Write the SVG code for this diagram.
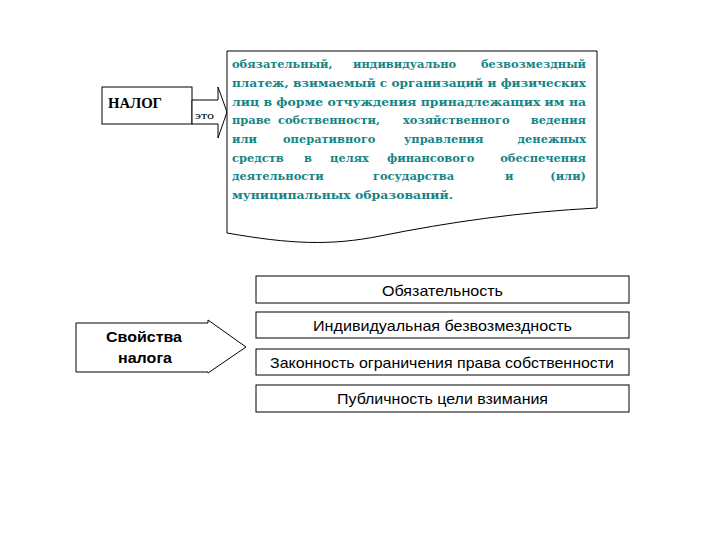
<svg xmlns="http://www.w3.org/2000/svg" width="720" height="540" viewBox="0 0 720 540">
<style>
.shape{fill:#fff;stroke:#000;stroke-width:1}
.def{font-family:"DejaVu Serif","Liberation Serif",serif;font-weight:bold;font-size:11.4px;fill:#168585}
.prop{font-family:"Liberation Sans",Arial,sans-serif;font-size:15px;fill:#000;text-anchor:middle}
.sv{font-family:"Liberation Sans",Arial,sans-serif;font-weight:bold;font-size:15px;fill:#000;text-anchor:middle}
</style>
<rect width="720" height="540" fill="#fff"/>
<g id="nalog">
<rect class="shape" x="102" y="87" width="90" height="37"/>
<text x="108" y="108" font-family="'Liberation Serif',serif" font-weight="bold" font-size="15" fill="#000" textLength="54" lengthAdjust="spacingAndGlyphs">НАЛОГ</text>
</g>
<g id="connectors">
<polygon class="shape" points="192,100 218,100 218,87 227,112 218,138 218,124 192,124"/>
<text x="195" y="119" font-family="'Liberation Serif',serif" font-size="11" fill="#000" textLength="19" lengthAdjust="spacingAndGlyphs">это</text>
<polygon class="shape" points="76,323 208,323 208,320 246,347 208,373 208,372 76,372"/>
</g>
<g id="definition">
<path class="shape" d="M227,51 L597,51 L597,208 C520,212 450,222 380,236 C330,246 290,244 227,233 Z"/>
<text class="def" y="68"><tspan x="232">обязательный,</tspan><tspan x="353">индивидуально</tspan><tspan x="586" text-anchor="end">безвозмездный</tspan></text>
<text class="def" x="232" y="87" textLength="354" lengthAdjust="spacingAndGlyphs">платеж, взимаемый с организаций и физических</text>
<text class="def" x="232" y="105.5" textLength="354" lengthAdjust="spacingAndGlyphs">лиц в форме отчуждения принадлежащих им на</text>
<text class="def" y="124"><tspan x="232">праве</tspan><tspan x="278">собственности,</tspan><tspan x="403">хозяйственного</tspan><tspan x="586" text-anchor="end">ведения</tspan></text>
<text class="def" y="143"><tspan x="232">или</tspan><tspan x="283">оперативного</tspan><tspan x="404">управления</tspan><tspan x="586" text-anchor="end">денежных</tspan></text>
<text class="def" y="161.5"><tspan x="232">средств</tspan><tspan x="304">в</tspan><tspan x="330">целях</tspan><tspan x="387">финансового</tspan><tspan x="586" text-anchor="end">обеспечения</tspan></text>
<text class="def" y="180"><tspan x="232">деятельности</tspan><tspan x="373">государства</tspan><tspan x="505">и</tspan><tspan x="586" text-anchor="end">(или)</tspan></text>
<text class="def" x="232" y="199" textLength="221" lengthAdjust="spacingAndGlyphs">муниципальных образований.</text>
</g>
<g id="svoistva">
<text class="sv" x="144" y="342" textLength="76" lengthAdjust="spacingAndGlyphs">Свойства</text>
<text class="sv" x="145" y="363" textLength="54" lengthAdjust="spacingAndGlyphs">налога</text>
</g>
<g id="prop1">
<rect class="shape" x="256" y="276" width="373" height="27"/>
<text class="prop" x="442.5" y="296" textLength="121" lengthAdjust="spacingAndGlyphs">Обязательность</text>
</g>
<g id="prop2">
<rect class="shape" x="256" y="312" width="373" height="26"/>
<text class="prop" x="442.5" y="331" textLength="259" lengthAdjust="spacingAndGlyphs">Индивидуальная безвозмездность</text>
</g>
<g id="prop3">
<rect class="shape" x="256" y="349" width="373" height="26"/>
<text class="prop" x="442" y="368" textLength="344" lengthAdjust="spacingAndGlyphs">Законность ограничения права собственности</text>
</g>
<g id="prop4">
<rect class="shape" x="256" y="385" width="373" height="27"/>
<text class="prop" x="442.5" y="404" textLength="211" lengthAdjust="spacingAndGlyphs">Публичность цели взимания</text>
</g>
</svg>
